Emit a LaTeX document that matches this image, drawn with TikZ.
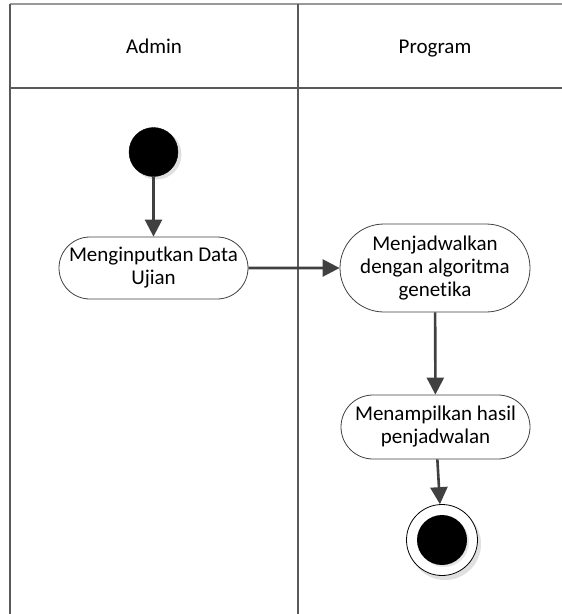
\documentclass[tikz,border=0pt]{standalone}
\usepackage{fontspec}
\setmainfont{Carlito}[RawFeature={-liga;-clig;-calt}]
\usetikzlibrary{shapes.misc,arrows.meta}

\tikzset{
  lane/.style={draw=black!65, line width=1.5pt},
  laneTop/.style={draw=black!40, line width=2pt},
  action/.style={rounded rectangle, draw=black!75, line width=0.8pt, fill=white,
    align=center, inner sep=2pt, font=\fontsize{21}{23}\selectfont},
  header/.style={anchor=base, font=\fontsize{21}{23}\selectfont},
  flow/.style={draw=black!75, line width=2.6pt,
    -{Triangle[length=17pt,width=17pt]}},
  startdot/.style={circle, fill=black, draw=black, minimum size=49pt, inner sep=0pt},
  enddot/.style={circle, draw=black, line width=0.8pt, fill=white, minimum size=71pt, inner sep=0pt},
  shade/.style={fill=black!12, draw=none}
}

\begin{document}
\begin{tikzpicture}[x=1pt, y=-1pt]
  \useasboundingbox (0,0) rectangle (562,614);

  % swimlane frame
  \draw[laneTop] (10,4) -- (562,4);
  \draw[lane] (10,4) -- (10,614);
  \draw[lane] (298,4) -- (298,614);
  \draw[lane] (10,88) -- (562,88);
  \node[header] (hAdmin) at (154,53) {Admin};
  \node[header] (hProgram) at (435,53) {Program};

  % initial node
  \fill[shade] (156.5,154.5) circle (25pt);
  \node[startdot] (start) at (153.5,152) {};

  % actions
  \node[action, minimum width=193pt, minimum height=62pt] (input) at (153.5,268)
    {Menginputkan Data\\Ujian};
  \node[action, minimum width=194pt, minimum height=88pt] (jadwal) at (435,268)
    {Menjadwalkan\\dengan algoritma\\genetika};
  \node[action, minimum width=193pt, minimum height=64pt] (tampil) at (435.5,427)
    {Menampilkan hasil\\penjadwalan};

  % final node
  \fill[shade] (445,544) circle (36pt);
  \node[enddot] (final) at (442,540) {};
  \fill[black!10] (444,542) circle (25pt);
  \node[circle, fill=black, minimum size=50pt, inner sep=0pt] (finalIn) at (442,540) {};

  % control flow
  \draw[flow] (start) -- (input);
  \draw[flow] (input) -- (jadwal);
  \draw[flow] (jadwal) -- (tampil);
  \draw[flow] (tampil) -- (final);
\end{tikzpicture}
\end{document}
